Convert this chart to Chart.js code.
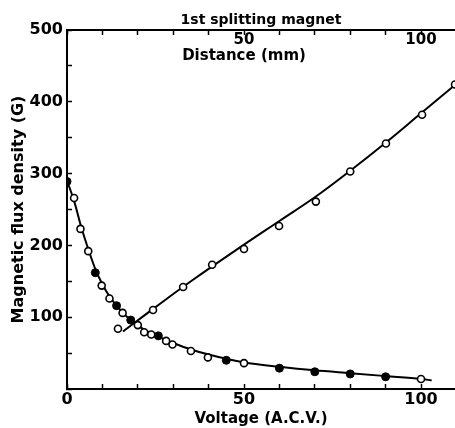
<!DOCTYPE html>
<html>
<head>
<meta charset="utf-8">
<script src="https://cdn.jsdelivr.net/npm/chart.js@4/dist/chart.umd.min.js"></script>
<style>
  body { margin: 0; background: #fff; }
  #grafica { display: block; }
</style>
</head>
<body>
<canvas id="grafica" width="455" height="428"></canvas>
<script>
// Puntos medidos vs voltaje (círculos abiertos)
const voltOpenX = [2, 3.8, 6, 9.8, 12, 15.7, 20, 21.8, 23.8, 28, 29.8, 35, 39.8, 50, 100];
const voltOpenY = [266, 223, 192, 144, 126, 106, 89, 79, 76, 67, 62, 53, 44, 36, 14];
// Puntos medidos vs voltaje (círculos llenos)
const voltFilledX = [0, 8, 14, 18, 25.8, 45, 60, 70, 80, 90];
const voltFilledY = [289, 162, 116, 96, 74, 40, 29, 24, 21, 17];
// Puntos medidos vs distancia (mm)
const distX = [14.4, 24.3, 32.8, 41, 50, 59.9, 70.3, 80, 90.1, 100.3, 109.6];
const distY = [84, 110, 142, 173, 195, 227, 261, 303, 342, 382, 424];
// Curvas ajustadas
const decFitX = [0, 2, 4, 6, 8, 10, 12, 14, 16, 18, 20, 22, 25, 28, 30, 35, 40, 45, 50, 60, 70, 80, 90, 100, 103];
const decFitY = [290, 262, 226, 195, 167, 146, 129, 116, 105, 96, 89, 82, 75, 68, 64, 55, 48, 42, 37, 31, 26, 22, 18, 14, 12];
const incFitX = [15.8, 25, 35, 50, 60, 70, 80, 90, 100, 110];
const incFitY = [80, 114, 150, 201, 234, 267, 304, 343, 384, 425];
// Etiquetas de los ejes
const yTickLabels = [100, 200, 300, 400, 500];
const xTickLabels = [0, 50, 100];
const topTickLabels = [50, 100];

const toPoints = (xs, ys) => xs.map((x, i) => ({ x: x, y: ys[i] }));

const fuente = 'DejaVu Sans';

// Quitar el relleno automático de los ejes horizontales
const fijarAlto = (alto) => (scale) => {
    scale.height = alto;
    scale.paddingLeft = 0;
    scale.paddingRight = 0;
};

new Chart(document.getElementById('grafica'), {
    type: 'scatter',
    data: {
        datasets: [
            {
                data: toPoints(voltOpenX, voltOpenY),
                pointRadius: 3.5,
                pointBorderWidth: 1.6,
                pointBorderColor: '#000',
                pointBackgroundColor: '#fff'
            },
            {
                data: toPoints(voltFilledX, voltFilledY),
                pointRadius: 4,
                pointBorderWidth: 1,
                pointBorderColor: '#000',
                pointBackgroundColor: '#000'
            },
            {
                data: toPoints(distX, distY),
                pointRadius: 3.5,
                pointBorderWidth: 1.6,
                pointBorderColor: '#000',
                pointBackgroundColor: '#fff'
            },
            {
                data: toPoints(decFitX, decFitY),
                showLine: true,
                pointRadius: 0,
                borderColor: '#000',
                borderWidth: 2,
                cubicInterpolationMode: 'monotone'
            },
            {
                data: toPoints(incFitX, incFitY),
                showLine: true,
                pointRadius: 0,
                borderColor: '#000',
                borderWidth: 2,
                tension: 0.4
            }
        ]
    },
    options: {
        responsive: false,
        animation: false,
        devicePixelRatio: 1,
        layout: { padding: 0, autoPadding: false },
        plugins: { legend: { display: false }, tooltip: { enabled: false } },
        scales: {
            x: {
                type: 'linear',
                position: 'bottom',
                min: 0,
                max: 109.6,
                afterFit: fijarAlto(39),
                border: { display: true, color: '#000', width: 2 },
                grid: { drawOnChartArea: false, drawTicks: true, tickLength: -5, tickColor: '#000', tickWidth: 1.5 },
                ticks: {
                    stepSize: 10,
                    includeBounds: false,
                    maxRotation: 0,
                    autoSkip: false,
                    padding: 6.4,
                    color: '#000',
                    font: { family: fuente, size: 16, weight: 'bold' },
                    callback: (v) => xTickLabels.includes(v) ? String(v) : ''
                },
                title: {
                    display: true,
                    text: 'Voltage (A.C.V.)',
                    color: '#000',
                    padding: 0,
                    font: { family: fuente, size: 15, weight: 'bold' }
                }
            },
            x2: {
                type: 'linear',
                position: 'top',
                min: 0,
                max: 109.6,
                afterFit: fijarAlto(30),
                border: { display: true, color: '#000', width: 2 },
                grid: { drawOnChartArea: false, drawTicks: true, tickLength: -5, tickColor: '#000', tickWidth: 1.5 },
                ticks: {
                    stepSize: 10,
                    includeBounds: false,
                    maxRotation: 0,
                    autoSkip: false,
                    mirror: true,
                    padding: -13.6,
                    color: '#000',
                    font: { family: fuente, size: 15, weight: 'bold', lineHeight: 1.05 },
                    callback: (v) => {
                        if (v === 50) return ['50', 'Distance (mm)'];
                        if (topTickLabels.includes(v)) return [String(v), ''];
                        return '';
                    }
                },
                title: {
                    display: true,
                    text: '1st splitting magnet',
                    color: '#000',
                    padding: { top: 11.6, bottom: 0 },
                    font: { family: fuente, size: 14, weight: 'bold' }
                }
            },
            y: {
                type: 'linear',
                position: 'left',
                min: 0,
                max: 500,
                afterFit: (scale) => { scale.width = 67; },
                border: { display: true, color: '#000', width: 2 },
                grid: { drawOnChartArea: false, drawTicks: true, tickLength: -5, tickColor: '#000', tickWidth: 1.5 },
                ticks: {
                    stepSize: 50,
                    autoSkip: false,
                    padding: 9,
                    color: '#000',
                    font: { family: fuente, size: 16, weight: 'bold' },
                    callback: (v) => yTickLabels.includes(v) ? String(v) : ''
                },
                title: {
                    display: true,
                    text: 'Magnetic flux density (G)',
                    color: '#000',
                    padding: { top: 9.4, bottom: 0 },
                    font: { family: fuente, size: 16, weight: 'bold' }
                }
            }
        }
    }
});
</script>
</body>
</html>
